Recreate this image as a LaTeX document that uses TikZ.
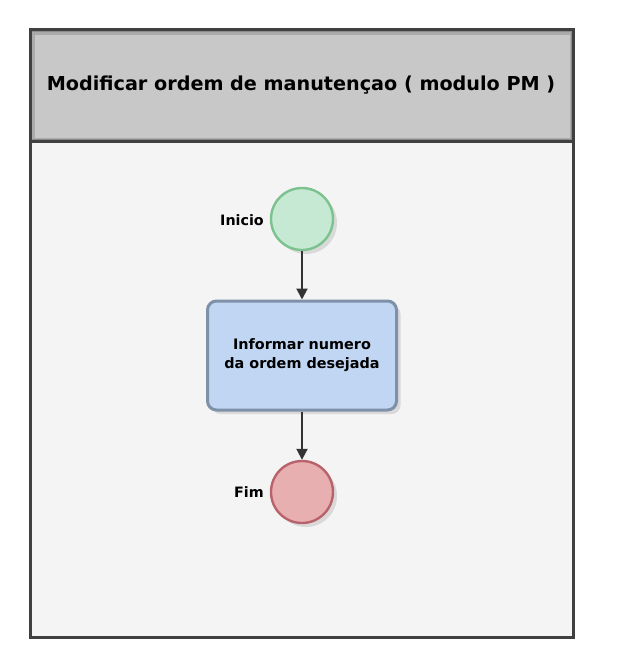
\documentclass[tikz,border=0pt]{standalone}
\usepackage{fontspec}
\setmainfont{DejaVu Sans}
\usetikzlibrary{shadows,arrows.meta}
\definecolor{framegray}{HTML}{404040}
\definecolor{headgray}{HTML}{C8C8C8}
\definecolor{poolbg}{HTML}{F4F4F4}
\definecolor{startfill}{HTML}{C6E9D3}
\definecolor{startline}{HTML}{7CC28E}
\definecolor{endfill}{HTML}{E8AFB1}
\definecolor{endline}{HTML}{B8636B}
\definecolor{taskfill}{HTML}{C1D6F2}
\definecolor{taskline}{HTML}{7E91A8}
\begin{document}
\begin{tikzpicture}[x=1pt,y=-1pt]
\tikzset{event/.style={shape=circle,minimum size=62pt,inner sep=0pt,line width=2.4pt,
                       drop shadow={shadow xshift=4pt,shadow yshift=-4pt,fill=black!25}},
         startev/.style={event,draw=startline,fill=startfill},
         endev/.style={event,draw=endline,fill=endfill},
         taskbox/.style={shape=rectangle,rounded corners=9pt,minimum width=189pt,minimum height=109pt,
                         draw=taskline,line width=3pt,fill=taskfill,align=center,
                         font=\bfseries\fontsize{14.4}{19}\selectfont,
                         drop shadow={shadow xshift=4pt,shadow yshift=-4pt,fill=black!25}},
         evlabel/.style={font=\bfseries\fontsize{14.3}{16}\selectfont,anchor=east,inner sep=0pt},
         flow/.style={draw=black!80,line width=2pt,-{Triangle[length=11pt,width=11pt]}}}
\useasboundingbox (0,0) rectangle (616,669);
% pool
\fill[poolbg] (30,30) rectangle (573,637);
\fill[headgray!70!black] (30,30) rectangle (573,141);
\fill[headgray!85!black] (32,32) rectangle (571,139);
\fill[headgray] (35,35) rectangle (570,138);
\draw[framegray,line width=3pt] (30,30) rectangle (573,637);
\draw[framegray,line width=3pt] (30,141) -- (573,141);
\node[font=\bfseries\fontsize{19.2}{22}\selectfont] (title) at (301,85) {Modificar ordem de manutençao ( modulo PM )};
% flow
\node[startev] (inicio) at (302,219) {};
\node[taskbox] (informar) at (302,355.5) {Informar numero\\da ordem desejada};
\node[endev] (fim) at (302,492) {};
\node[evlabel] (inicio label) at (264,220) {Inicio};
\node[evlabel] (fim label) at (264,492) {Fim};
\draw[flow] (inicio) -- (informar);
\draw[flow] (informar) -- (fim);
\end{tikzpicture}
\end{document}
